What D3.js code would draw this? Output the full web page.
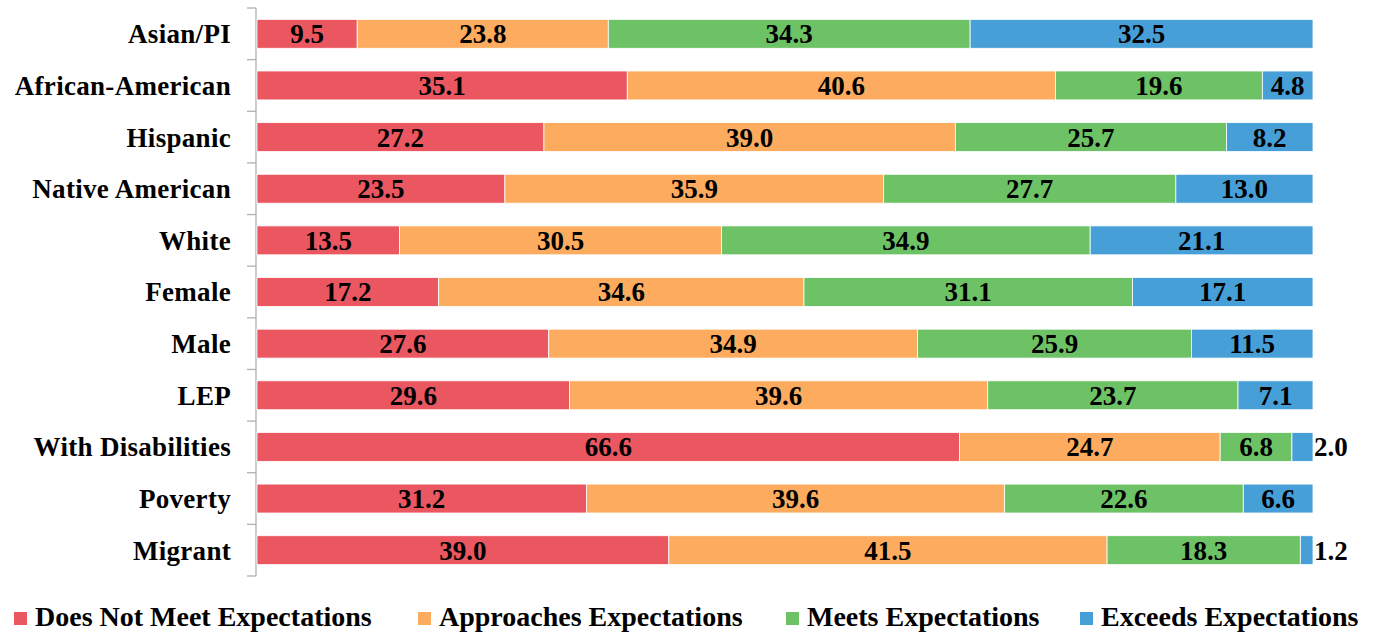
<!DOCTYPE html>
<html><head><meta charset="utf-8">
<script src="https://cdn.jsdelivr.net/npm/d3@7"></script>
<style>body{margin:0;background:#fff}svg{display:block}</style>
</head><body>
<svg id="c" width="1376" height="632"></svg>
<script>
const categories = ["Asian/PI","African-American","Hispanic","Native American","White","Female","Male","LEP","With Disabilities","Poverty","Migrant"];
const seriesNames = ["Does Not Meet Expectations","Approaches Expectations","Meets Expectations","Exceeds Expectations"];
const doesNotMeet = [9.5,35.1,27.2,23.5,13.5,17.2,27.6,29.6,66.6,31.2,39.0];
const approaches  = [23.8,40.6,39.0,35.9,30.5,34.6,34.9,39.6,24.7,39.6,41.5];
const meets       = [34.3,19.6,25.7,27.7,34.9,31.1,25.9,23.7,6.8,22.6,18.3];
const exceeds     = [32.5,4.8,8.2,13.0,21.1,17.1,11.5,7.1,2.0,6.6,1.2];
const colors = ["#EB5760","#FDAC5F","#6DC266","#479FD8"];

const rows = categories.map((c,i)=>({cat:c, s0:doesNotMeet[i], s1:approaches[i], s2:meets[i], s3:exceeds[i]}));
const keys = ["s0","s1","s2","s3"];
const stacked = d3.stack().keys(keys).offset(d3.stackOffsetExpand)(rows);

const FONT = "Liberation Serif";
const svg = d3.select("#c");
const x = d3.scaleLinear().domain([0,1]).range([257,1313]);
const y = d3.scaleBand().domain(categories).range([8,576]).paddingInner(0.44).paddingOuter(0.22);

const yAxis = d3.axisLeft(y).tickSize(0).tickFormat("");
const gAx = svg.append("g").attr("transform","translate(256,0)").call(yAxis);
gAx.select(".domain").attr("stroke","#b0b0b0").attr("stroke-width",1.3).attr("d","M0,8V576");
const bounds = categories.map(c=>y(c)-y.step()*y.paddingInner()/2).concat([576]);
bounds[0]=8;
svg.append("g").selectAll("line").data(bounds).join("line")
  .attr("x1",247).attr("x2",256).attr("y1",d=>d).attr("y2",d=>d)
  .attr("stroke","#b0b0b0").attr("stroke-width",1.3);

stacked.forEach((layer,k)=>{
  svg.append("g").selectAll("rect").data(layer).join("rect")
    .attr("x",d=>x(d[0])).attr("width",d=>x(d[1])-x(d[0]))
    .attr("y",d=>y(d.data.cat)).attr("height",y.bandwidth())
    .attr("fill",colors[k]).attr("stroke","#fff").attr("stroke-width",0.8);
});
stacked.forEach((layer,k)=>{
  svg.append("g").selectAll("text").data(layer).join("text")
    .attr("x",d=>{const v=d.data[keys[k]]; return v<3 ? x(d[1])+1 : (x(d[0])+x(d[1]))/2;})
    .attr("text-anchor",d=>d.data[keys[k]]<3?"start":"middle")
    .attr("y",d=>y(d.data.cat)+y.bandwidth()/2)
    .attr("dy","0.35em")
    .attr("font-family",FONT).attr("font-weight","bold").attr("font-size",27).attr("fill","#000")
    .text(d=>d.data[keys[k]].toFixed(1));
});
svg.append("g").selectAll("text").data(categories).join("text")
  .attr("x",231).attr("y",d=>y(d)+y.bandwidth()/2).attr("dy","0.35em")
  .attr("text-anchor","end")
  .attr("font-family",FONT).attr("font-weight","bold").attr("font-size",27).attr("fill","#000")
  .attr("letter-spacing",0.3)
  .text(d=>d);

const legX = [14,418,786,1080];
const lg = svg.append("g").selectAll("g").data(seriesNames).join("g")
  .attr("transform",(d,i)=>`translate(${legX[i]},626)`);
lg.append("rect").attr("x",0).attr("y",-14).attr("width",13).attr("height",13).attr("fill",(d,i)=>colors[i]);
lg.append("text").attr("x",21).attr("y",0)
  .attr("font-family",FONT).attr("font-weight","bold").attr("font-size",28).attr("fill","#000")
  .text(d=>d);
</script>
</body></html>
